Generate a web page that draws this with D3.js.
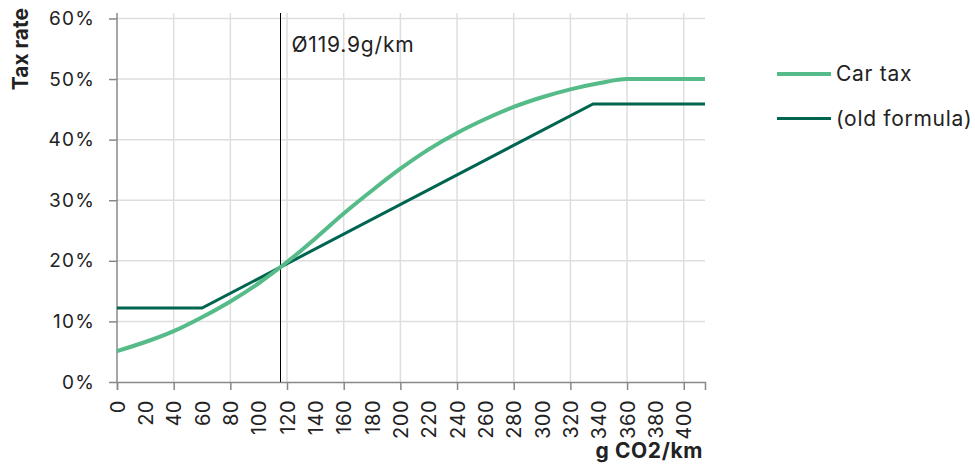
<!DOCTYPE html>
<html>
<head>
<meta charset="utf-8">
<script src="https://cdn.jsdelivr.net/npm/d3@7"></script>
<style>
  body { margin: 0; background: #fff; }
  text { font-family: Inter, "Noto Sans", sans-serif; fill: #222; }
</style>
</head>
<body>
<div id="chart"></div>
<script>
// emissions (g CO2/km) and tax rates
const carTaxX = [0, 20, 40, 60, 80, 100, 120, 140, 160, 180, 200, 220, 240, 260, 280, 300, 320, 340, 360, 380, 400, 415];
const carTaxY = [0.051, 0.066, 0.084, 0.107, 0.133, 0.163, 0.198, 0.237, 0.278, 0.316, 0.352, 0.384, 0.411, 0.434, 0.454, 0.470, 0.483, 0.493, 0.500, 0.500, 0.500, 0.500];
const oldX = [0, 60, 336, 415];
const oldY = [0.122, 0.122, 0.459, 0.459];
const xTicks = d3.range(0, 401, 20);
const yTicks = [0, 0.1, 0.2, 0.3, 0.4, 0.5, 0.6];
const avgValue = 115;            // where the average line sits on the axis
const avgLabel = "Ø119.9g/km";
const seriesNames = ["Car tax", "(old formula)"];
const seriesColors = ["#55bb88", "#00654f"];

const width = 975, height = 466;
const margin = { left: 117, top: 13, right: 270, bottom: 84 };
const innerW = width - margin.left - margin.right;
const innerH = height - margin.top - margin.bottom;

const svg = d3.select("#chart").append("svg")
  .attr("width", width)
  .attr("height", height);

const g = svg.append("g").attr("transform", `translate(${margin.left},${margin.top})`);

const x = d3.scaleLinear().domain([0, 415]).range([0, innerW]);
const y = d3.scaleLinear().domain([0, 0.609]).range([innerH, 0]);

// grid
g.append("g")
  .selectAll("line.h")
  .data(yTicks.filter(d => d > 0))
  .enter().append("line")
  .attr("x1", 0).attr("x2", innerW)
  .attr("y1", d => y(d)).attr("y2", d => y(d))
  .style("stroke", "#dedede").style("stroke-width", 1.5);

g.append("g")
  .selectAll("line.v")
  .data(xTicks.filter(d => d > 0 && d % 40 === 0))
  .enter().append("line")
  .attr("x1", d => x(d)).attr("x2", d => x(d))
  .attr("y1", 0).attr("y2", innerH)
  .style("stroke", "#dedede").style("stroke-width", 1.5);

// x axis
const xAxis = g.append("g")
  .attr("transform", `translate(0,${innerH})`)
  .call(d3.axisBottom(x).tickValues(xTicks).tickSize(8).tickFormat(d3.format("d")));
xAxis.select(".domain").style("stroke", "#888").style("stroke-width", 1.5);
xAxis.selectAll(".tick line")
  .style("stroke", "#888").style("stroke-width", 1.5)
  .style("display", d => d % 40 === 0 ? null : "none");
xAxis.selectAll(".tick text")
  .attr("transform", "rotate(-90)")
  .attr("x", -18).attr("y", 0).attr("dy", "0.36em")
  .style("text-anchor", "end")
  .style("font-size", "20px")
  .style("letter-spacing", "0.5px");

// y axis
const yAxis = g.append("g")
  .call(d3.axisLeft(y).tickValues(yTicks).tickSize(8).tickFormat(d3.format(".0%")));
yAxis.select(".domain").style("stroke", "#888").style("stroke-width", 1.5)
  .attr("d", `M-0,${innerH}V0`);
yAxis.selectAll(".tick line").style("stroke", "#888").style("stroke-width", 1.5);
yAxis.selectAll(".tick text").attr("x", -22)
  .style("font-size", "19px")
  .style("letter-spacing", "1.2px");

// axis titles
svg.append("text")
  .attr("transform", "translate(28,8) rotate(-90)")
  .style("text-anchor", "end")
  .style("font-weight", "bold").style("font-size", "21px")
  .text("Tax rate");

svg.append("text")
  .attr("x", margin.left + innerW - 2).attr("y", 458)
  .style("text-anchor", "end")
  .style("font-weight", "bold").style("font-size", "21px")
  .style("letter-spacing", "0.6px")
  .text("g CO2/km");

// average marker (snapped to a whole pixel so it stays black)
const avgX = Math.round(margin.left + x(avgValue)) + 0.5 - margin.left;
g.append("line")
  .attr("x1", avgX).attr("x2", avgX)
  .attr("y1", 0).attr("y2", innerH)
  .style("stroke", "#000").style("stroke-width", 1)
  .style("shape-rendering", "crispEdges");
g.append("text")
  .attr("x", avgX + 11).attr("y", 39)
  .style("font-size", "21px")
  .style("letter-spacing", "0.8px")
  .text(avgLabel);

// lines
const line = d3.line().x(d => x(d[0])).y(d => y(d[1]));
g.append("path")
  .datum(oldX.map((v, i) => [v, oldY[i]]))
  .attr("d", line)
  .style("fill", "none").style("stroke", seriesColors[1]).style("stroke-width", 3);
g.append("path")
  .datum(carTaxX.map((v, i) => [v, carTaxY[i]]))
  .attr("d", line.curve(d3.curveMonotoneX))
  .style("fill", "none").style("stroke", seriesColors[0]).style("stroke-width", 4);

// legend
const legend = svg.append("g").attr("transform", "translate(777,74)");
const items = legend.selectAll("g")
  .data(seriesNames)
  .enter().append("g")
  .attr("transform", (d, i) => `translate(0,${i * 44.5})`);
items.append("line")
  .attr("x1", 0).attr("x2", 54)
  .style("stroke", (d, i) => seriesColors[i])
  .style("stroke-width", (d, i) => i === 0 ? 4 : 3);
items.append("text")
  .attr("x", 59).attr("dy", "0.35em")
  .style("font-size", "21px")
  .style("letter-spacing", "0.7px")
  .text(d => d);
</script>
</body>
</html>
